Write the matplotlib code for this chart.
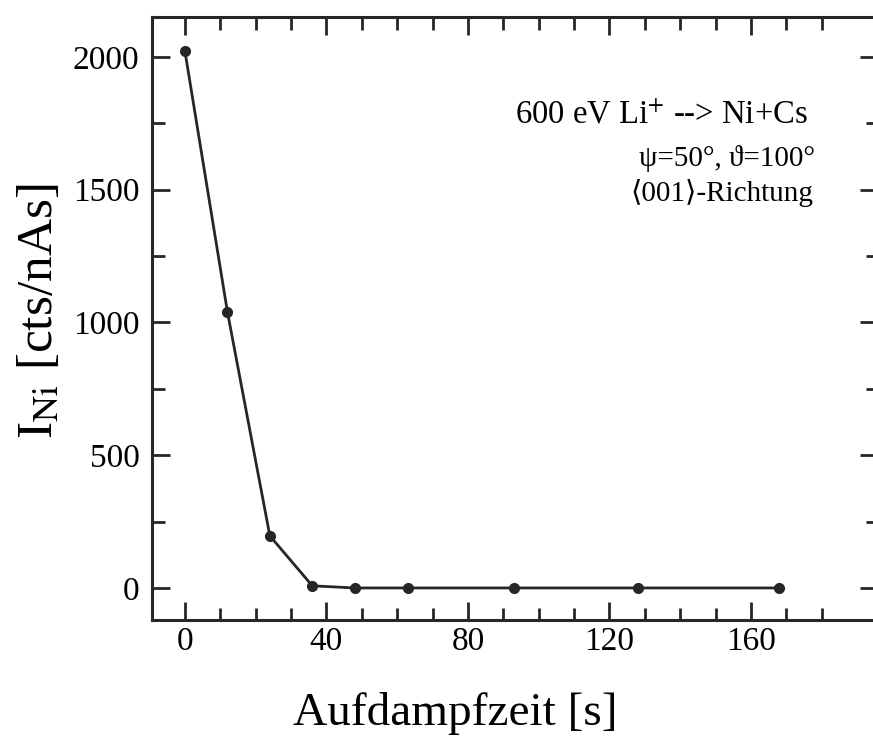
import matplotlib
matplotlib.use("Agg")
import matplotlib.pyplot as plt
from matplotlib.ticker import FixedLocator

plt.rcParams['font.family'] = ['Liberation Serif', 'DejaVu Serif']
plt.rcParams['mathtext.fontset'] = 'stix'

# data
zeit = [0, 12, 24, 36, 48, 63, 93, 128, 168]
intens = [2020, 1040, 196, 8, 0, 0, 0, 0, 0]

x_major = [0, 40, 80, 120, 160]
x_minor = list(range(0, 190, 10))
y_major = [0, 500, 1000, 1500, 2000]
y_minor = [250, 750, 1250, 1750]

ink = '#262626'

fig = plt.figure(figsize=(8.73, 7.37), dpi=100)
ax = fig.add_axes([0.174, 0.159, 0.832, 0.818])

ax.plot(zeit, intens, color=ink, lw=2.0, marker='o', ms=7,
        markerfacecolor=ink, markeredgecolor=ink)

ax.set_xlim(-9.35, 196)
ax.set_ylim(-120, 2150)

ax.xaxis.set_major_locator(FixedLocator(x_major))
ax.xaxis.set_minor_locator(FixedLocator(x_minor))
ax.yaxis.set_major_locator(FixedLocator(y_major))
ax.yaxis.set_minor_locator(FixedLocator(y_minor))

ax.tick_params(which='both', direction='in', top=True, right=True,
               color=ink, width=2.0, labelsize=24)
ax.tick_params(which='major', length=13)
ax.tick_params(which='minor', length=9)
ax.tick_params(axis='x', which='major', pad=5)
ax.tick_params(axis='y', which='major', pad=9)

for sp in ax.spines.values():
    sp.set_linewidth(2.2)
    sp.set_color(ink)

ax.set_xlabel('Aufdampfzeit [s]', fontsize=34)
ax.xaxis.set_label_coords(0.418, -0.12)
ax.set_ylabel(r'I$_{\mathrm{Ni}}$ [cts/nAs]', fontsize=37)
ax.yaxis.set_label_coords(-0.122, 0.512)

ax.text(0.903, 0.837, r'600 eV Li$^{+}$ --> Ni+Cs', transform=ax.transAxes,
        ha='right', va='center', fontsize=23.5)
ax.text(0.913, 0.766, 'ψ=50°, ϑ=100°', transform=ax.transAxes,
        ha='right', va='center', fontsize=21)
ax.text(0.91, 0.708, '⟨001⟩-Richtung', transform=ax.transAxes,
        ha='right', va='center', fontsize=21)

fig.savefig('out.png', dpi=100)
